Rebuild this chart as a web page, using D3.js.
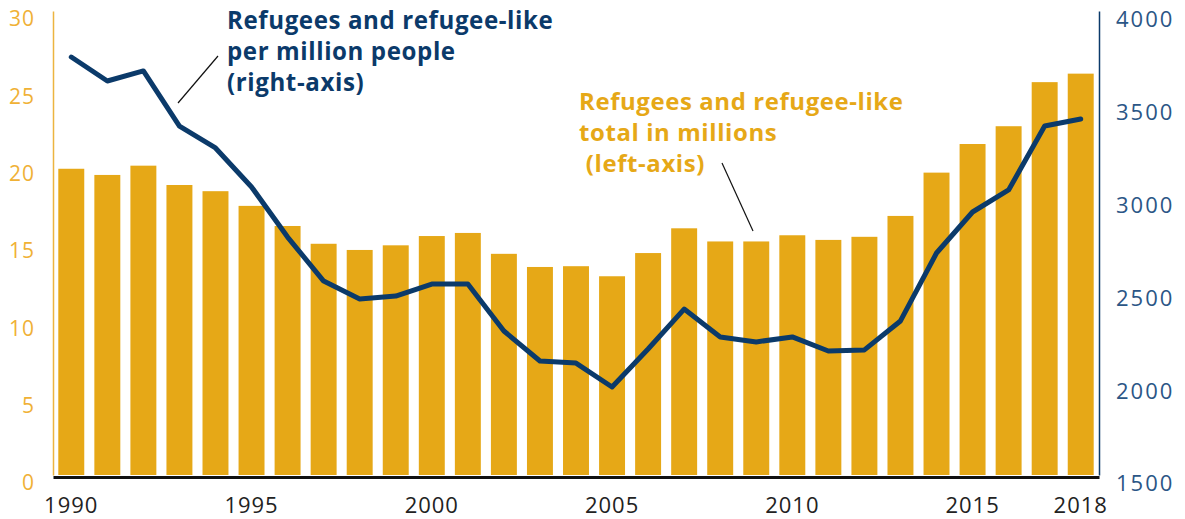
<!DOCTYPE html>
<html>
<head>
<meta charset="utf-8">
<script src="https://cdn.jsdelivr.net/npm/d3@7"></script>
<style>
  html, body { margin: 0; padding: 0; background: #ffffff; }
  svg { display: block; }
</style>
</head>
<body>
<svg id="chart" width="1185" height="519"></svg>
<script>
// ---- data ----
const years = [1990, 1991, 1992, 1993, 1994, 1995, 1996, 1997, 1998, 1999,
               2000, 2001, 2002, 2003, 2004, 2005, 2006, 2007, 2008, 2009,
               2010, 2011, 2012, 2013, 2014, 2015, 2016, 2017, 2018];
// Refugees and refugee-like, total in millions (left axis, bars)
const totalMillions = [19.8, 19.4, 20.0, 18.75, 18.35, 17.4, 16.1, 14.95, 14.55, 14.85,
                       15.45, 15.65, 14.3, 13.45, 13.5, 12.85, 14.35, 15.95, 15.1, 15.1,
                       15.5, 15.2, 15.4, 16.75, 19.55, 21.4, 22.55, 25.4, 25.95];
// Refugees and refugee-like per million people (right axis, line)
const perMillion = [3752, 3623, 3677, 3380, 3262, 3052, 2782, 2545, 2448, 2464,
                    2529, 2529, 2276, 2114, 2103, 1974, 2179, 2394, 2244, 2217,
                    2244, 2168, 2174, 2330, 2696, 2917, 3036, 3380, 3418];
const xTickYears = [1990, 1995, 2000, 2005, 2010, 2015, 2018];
const leftTicks = [0, 5, 10, 15, 20, 25, 30];
const rightTicks = [1500, 2000, 2500, 3000, 3500, 4000];
const barLabel = ["Refugees and refugee-like", "total in millions", "\u00a0(left-axis)"];
const lineLabel = ["Refugees and refugee-like", "per million people", "(right-axis)"];

// ---- layout ----
const plot = { left: 53, right: 1099, top: 11, bottom: 475 };
const gold = "#e6a817";
const goldText = "#f0b135";
const navy = "#0b3a6a";
const navyText = "#2b5686";
const font = "'Open Sans', Lato, sans-serif";

const svg = d3.select("#chart");

const x = d3.scaleBand()
  .domain(years)
  .range([plot.left, plot.right])
  .paddingInner(0.28)
  .paddingOuter(0.147);

const yL = d3.scaleLinear().domain([0, 30]).range([plot.bottom, plot.top]);
const yR = d3.scaleLinear().domain([1500, 4000]).range([plot.bottom, plot.top]);

// bars
svg.append("g")
  .selectAll("rect")
  .data(years)
  .join("rect")
  .attr("x", d => x(d))
  .attr("width", x.bandwidth())
  .attr("y", (d, i) => yL(totalMillions[i]))
  .attr("height", (d, i) => yL(0) - yL(totalMillions[i]))
  .attr("fill", gold);

// left axis
const gL = svg.append("g")
  .attr("transform", `translate(${plot.left},0)`)
  .call(d3.axisLeft(yL).tickValues(leftTicks).tickFormat(d3.format("d")).tickSize(0).tickPadding(18));
gL.select(".domain").attr("stroke", "#ecb440").attr("stroke-width", 1.5);
gL.selectAll("text")
  .attr("fill", goldText)
  .attr("font-family", font)
  .attr("font-size", 21)
  .attr("font-weight", 400)
  .attr("letter-spacing", "1px")
  .attr("dy", "0.7em");

// right axis
const gR = svg.append("g")
  .attr("transform", `translate(${plot.right},0)`)
  .call(d3.axisRight(yR).tickValues(rightTicks).tickFormat(d3.format("d")).tickSize(0).tickPadding(17));
gR.select(".domain").attr("stroke", navy).attr("stroke-width", 1.5);
gR.selectAll("text")
  .attr("fill", navyText)
  .attr("font-family", font)
  .attr("font-size", 22)
  .attr("font-weight", 400)
  .attr("letter-spacing", "2px")
  .attr("dy", "0.72em");

// x axis (baseline + year labels)
const gX = svg.append("g")
  .attr("transform", `translate(0,${plot.bottom + 2})`)
  .call(d3.axisBottom(x).tickValues(xTickYears).tickSize(0).tickPadding(20));
gX.select(".domain").attr("stroke", "#111").attr("stroke-width", 3);
gX.selectAll("text")
  .attr("fill", "#222")
  .attr("font-family", font)
  .attr("font-size", 22)
  .attr("font-weight", 400)
  .attr("letter-spacing", "1px");

// line
const line = d3.line()
  .x((d, i) => x(years[i]) + x.bandwidth() / 2)
  .y(d => yR(d));
svg.append("path")
  .datum(perMillion)
  .attr("d", line)
  .attr("fill", "none")
  .attr("stroke", navy)
  .attr("stroke-width", 5)
  .attr("stroke-linejoin", "round")
  .attr("stroke-linecap", "round");

// annotations
function annot(lines, xPos, yPos, color, targetWidth) {
  const t = svg.append("text")
    .attr("x", xPos).attr("y", yPos)
    .attr("fill", color)
    .attr("font-family", "'Open Sans', Lato, sans-serif")
    .attr("font-weight", 700)
    .attr("font-size", 22)
    .attr("letter-spacing", "0.6px");
  const spans = lines.map((s, i) =>
    t.append("tspan").attr("x", xPos).attr("dy", i === 0 ? 0 : 31).text(s));
  // fit first line to the reference width
  const w = spans[0].node().getComputedTextLength();
  if (w > 0) {
    const size = Math.min(25, 22 * targetWidth / w);
    t.attr("font-size", size.toFixed(2));
  }
}
annot(lineLabel, 227, 29, navy, 328);
annot(barLabel, 579, 110, gold, 326);

// leader lines
svg.append("line")
  .attr("x1", 178).attr("y1", 103).attr("x2", 218).attr("y2", 56)
  .attr("stroke", "#111").attr("stroke-width", 1.2);
svg.append("line")
  .attr("x1", 722).attr("y1", 163).attr("x2", 753).attr("y2", 231)
  .attr("stroke", "#111").attr("stroke-width", 1.2);
</script>
</body>
</html>
